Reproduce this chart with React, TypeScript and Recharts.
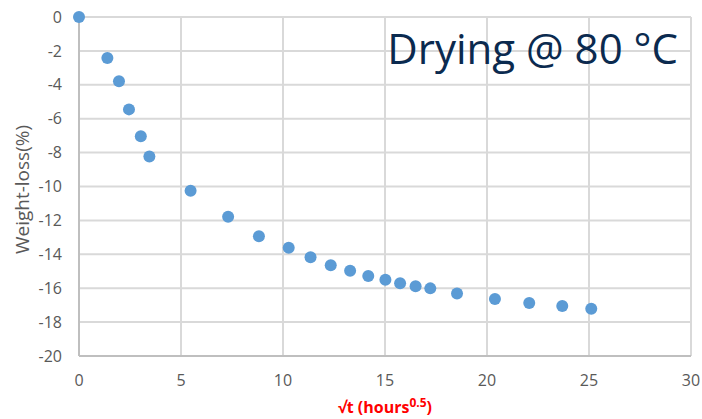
import { ScatterChart, Scatter, XAxis, YAxis, CartesianGrid } from "recharts";

// √t (hours^0.5) readings
const sqrtT = [0, 1.39, 1.96, 2.45, 3.03, 3.45, 5.47, 7.31, 8.82, 10.28, 11.35, 12.34, 13.29, 14.18, 15.02, 15.74, 16.5, 17.22, 18.53, 20.39, 22.07, 23.69, 25.11];
// weight loss in %
const weightLoss = [0, -2.42, -3.79, -5.45, -7.04, -8.23, -10.25, -11.78, -12.93, -13.61, -14.18, -14.64, -14.97, -15.28, -15.5, -15.71, -15.89, -16.01, -16.31, -16.64, -16.87, -17.05, -17.21];

const xTicks = [0, 5, 10, 15, 20, 25, 30];
const yTicks = [0, -2, -4, -6, -8, -10, -12, -14, -16, -18, -20];

const data = sqrtT.map((x, i) => ({ x, y: weightLoss[i] }));

const FONT = "'Open Sans', sans-serif";
const GREY = "#595959";

export default function App() {
  const dot = (props: any) => {
    const { cx, cy } = props;
    return <circle cx={cx} cy={cy} r={6} fill="#5b9bd5" />;
  };

  const xLabel = (props: any) => {
    const vb = props.viewBox;
    const cx = vb.x + vb.width / 2;
    return (
      <text x={cx} y={413} textAnchor="middle" fill="#ff0000" fontWeight={700} fontSize={16} fontFamily={FONT}>
        √t (hours<tspan fontSize={12} dy={-6}>0.5</tspan><tspan dy={6}>)</tspan>
      </text>
    );
  };

  const yLabel = (props: any) => {
    const vb = props.viewBox;
    const cy = vb.y + vb.height / 2 + 3;
    return (
      <text
        x={22}
        y={cy}
        transform={`rotate(-90, 22, ${cy})`}
        textAnchor="middle"
        dominantBaseline="central"
        fill={GREY}
        fontSize={19}
        fontFamily={FONT}
      >
        Weight-loss(%)
      </text>
    );
  };

  return (
    <div style={{ position: "absolute", left: 0, top: 0, width: 702, height: 419, background: "#fff" }}>
      <ScatterChart width={702} height={419} margin={{ top: 17, right: 11, bottom: 33, left: 0 }}>
        <CartesianGrid stroke="#d9d9d9" strokeWidth={2} />
        <XAxis
          type="number"
          dataKey="x"
          domain={[0, 30]}
          ticks={xTicks}
          height={30}
          tickLine={false}
          tickSize={0}
          tickMargin={19}
          axisLine={{ stroke: "#bfbfbf", strokeWidth: 2 }}
          tick={{ fill: GREY, fontSize: 16, fontFamily: FONT }}
          label={xLabel}
        />
        <YAxis
          type="number"
          dataKey="y"
          domain={[-20, 0]}
          ticks={yTicks}
          width={79}
          tickLine={false}
          tickSize={0}
          tickMargin={17}
          axisLine={{ stroke: "#bfbfbf", strokeWidth: 2 }}
          tick={{ fill: GREY, fontSize: 16, fontFamily: FONT }}
          label={yLabel}
        />
        <Scatter data={data} shape={dot} isAnimationActive={false} />
      </ScatterChart>
      <div
        style={{
          position: "absolute",
          right: 24,
          top: 20,
          fontFamily: FONT,
          fontSize: 42,
          lineHeight: "56px",
          color: "#0b2a4f",
          whiteSpace: "nowrap",
        }}
      >
        Drying @ 80 °C
      </div>
    </div>
  );
}
